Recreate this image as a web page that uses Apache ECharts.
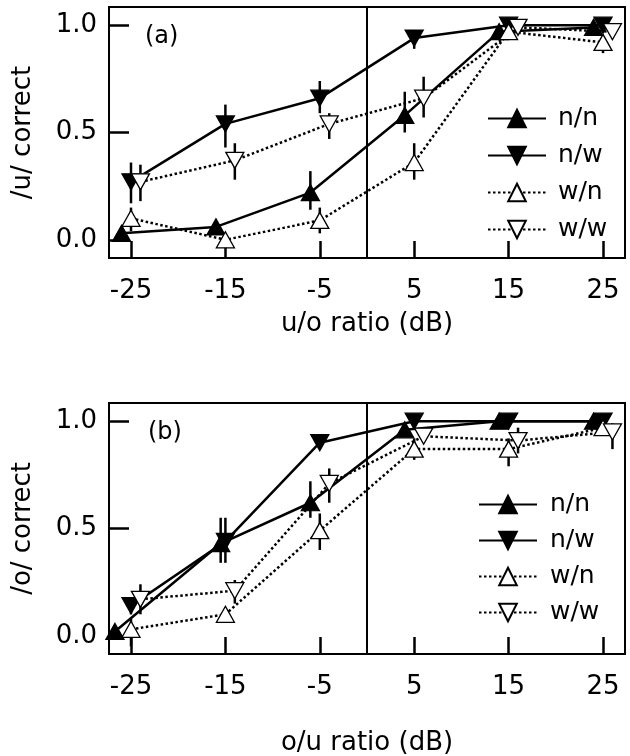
<!DOCTYPE html>
<html><head><meta charset="utf-8">
<script src="https://cdn.jsdelivr.net/npm/echarts@6/dist/echarts.min.js"></script>
<style>html,body{margin:0;padding:0;background:#fff}#c{width:630px;height:756px}</style>
</head><body><div id="c"></div>
<script>
// ---- data ----
const xTicks = [-25, -15, -5, 5, 15, 25];
const yTicks = [0, 0.5, 1.0];
const names = ['n/n', 'n/w', 'w/n', 'w/w'];
const panelLabels = ['(a)', '(b)'];
const yTitles = ['/u/ correct', '/o/ correct'];
const xTitles = ['u/o ratio (dB)', 'o/u ratio (dB)'];

// panel (a): [dB, proportion correct]
const a_nn = [[-26, 0.03], [-16, 0.06], [-6, 0.22], [4, 0.58], [14, 0.97], [24, 0.99]];
const a_nw = [[-25, 0.27], [-15, 0.54], [-5, 0.66], [5, 0.94], [15, 1.0], [25, 1.0]];
const a_wn = [[-25, 0.10], [-15, 0.0], [-5, 0.09], [5, 0.36], [15, 0.97], [25, 0.92]];
const a_ww = [[-24, 0.27], [-14, 0.37], [-4, 0.54], [6, 0.66], [16, 0.99], [26, 0.97]];
// error bars (a): [dB, low, high]
const a_err = [
  [-25, 0.17, 0.36], [-15, 0.43, 0.63], [-5, 0.59, 0.74], [5, 0.89, 0.96],
  [-24, 0.18, 0.35], [-14, 0.28, 0.45], [-4, 0.47, 0.59], [6, 0.57, 0.76],
  [-6, 0.14, 0.32], [4, 0.50, 0.69],
  [-25, 0.04, 0.15], [-5, 0.03, 0.15], [5, 0.28, 0.45], [25, 0.87, 0.94]
];

// panel (b)
const b_nn = [[-26.7, 0.02], [-15.5, 0.43], [-6, 0.62], [4, 0.96], [14, 1.0], [24, 1.0]];
const b_nw = [[-25, 0.14], [-15, 0.44], [-5, 0.90], [5, 1.0], [15, 1.0], [25, 1.0]];
const b_wn = [[-25, 0.03], [-15, 0.10], [-5, 0.49], [5, 0.87], [15, 0.87], [25, 0.97]];
const b_ww = [[-24, 0.17], [-14, 0.21], [-4, 0.71], [6, 0.93], [16, 0.91], [26, 0.95]];
const b_err = [
  [-15.5, 0.34, 0.55], [-6, 0.55, 0.72],
  [-15, 0.34, 0.55], [-25, 0.10, 0.17],
  [-24, 0.10, 0.24], [-14, 0.15, 0.26], [-4, 0.62, 0.78], [16, 0.85, 0.97], [26, 0.87, 0.99],
  [-25, -0.05, 0.08], [-5, 0.40, 0.57], [5, 0.82, 0.92], [15, 0.79, 0.92]
];

// ---- chart ----
const FONT = 'DejaVu Sans';
const chart = echarts.init(document.getElementById('c'), null, {renderer: 'canvas'});

const styles = {
  'n/n': {symbolRotate: 0, fill: '#000', dash: 'solid'},
  'n/w': {symbolRotate: 180, fill: '#000', dash: 'solid'},
  'w/n': {symbolRotate: 0, fill: '#fff', dash: [2.5, 2.5]},
  'w/w': {symbolRotate: 180, fill: '#fff', dash: [2.5, 2.5]}
};

function lineSeries(name, data, idx) {
  const s = styles[name];
  return {
    type: 'line', name: name, data: data,
    xAxisIndex: idx, yAxisIndex: idx,
    symbol: 'triangle', symbolSize: [18, 16], symbolRotate: s.symbolRotate,
    showAllSymbol: true, clip: false,
    lineStyle: {color: '#000', width: 2.5, type: s.dash},
    itemStyle: {color: s.fill, borderColor: '#000', borderWidth: 1.3},
    z: 3, animation: false
  };
}
function errSeries(data, idx) {
  return {
    type: 'custom', data: data, xAxisIndex: idx, yAxisIndex: idx, z: 1, animation: false,
    silent: true,
    renderItem: function (params, api) {
      const p1 = api.coord([api.value(0), api.value(1)]);
      const p2 = api.coord([api.value(0), api.value(2)]);
      return {type: 'line', shape: {x1: p1[0], y1: p1[1], x2: p2[0], y2: p2[1]},
        style: {stroke: '#000', lineWidth: 2.5}};
    }
  };
}
function vline(idx) {
  return {
    type: 'line', data: [], xAxisIndex: idx, yAxisIndex: idx, animation: false,
    markLine: {silent: true, symbol: 'none', label: {show: false},
      lineStyle: {color: '#000', width: 2, type: 'solid'}, data: [{xAxis: 0}]}
  };
}

const grids = [
  {left: 109, top: 7, width: 516, height: 251, show: true, borderColor: '#000', borderWidth: 2,
    containLabel: false, outerBoundsMode: 'none'},
  {left: 109, top: 403, width: 516, height: 251, show: true, borderColor: '#000', borderWidth: 2,
    containLabel: false, outerBoundsMode: 'none'}
];
const xNameGap = [53, 76];
const xAxes = [0, 1].map(i => ({
  type: 'value', gridIndex: i, min: -27.33, max: 27.33,
  name: xTitles[i], nameLocation: 'middle', nameGap: xNameGap[i],
  nameTextStyle: {fontFamily: FONT, fontSize: 26, color: '#000'},
  axisLine: {show: true, onZero: false, lineStyle: {color: '#000', width: 2}},
  axisTick: {show: true, inside: true, length: 17, lineStyle: {color: '#000', width: 2.5}, customValues: xTicks},
  axisLabel: {show: true, margin: 20, fontFamily: FONT, fontSize: 26, color: '#000', customValues: xTicks},
  splitLine: {show: false}
}));
const yAxes = [0, 1].map(i => ({
  type: 'value', gridIndex: i, min: -0.085, max: 1.085,
  name: yTitles[i], nameLocation: 'middle', nameGap: 73, nameRotate: 90,
  nameTextStyle: {fontFamily: FONT, fontSize: 26, color: '#000'},
  axisLine: {show: true, onZero: false, lineStyle: {color: '#000', width: 2}},
  axisTick: {show: true, inside: true, length: 20, lineStyle: {color: '#000', width: 2.5}, customValues: yTicks},
  axisLabel: {show: true, margin: 12, fontFamily: FONT, fontSize: 26, color: '#000', customValues: yTicks,
    formatter: v => v.toFixed(1)},
  splitLine: {show: false}
}));

const legendBase = {
  orient: 'vertical', itemWidth: 58, itemHeight: 22, data: names,
  selectedMode: false,
  textStyle: {fontFamily: FONT, fontSize: 25, color: '#000'}
};

const option = {
  backgroundColor: '#fff',
  animation: false,
  grid: grids,
  xAxis: xAxes,
  yAxis: yAxes,
  legend: [
    Object.assign({}, legendBase, {left: 482, top: 101, itemGap: 12,
      textStyle: Object.assign({}, legendBase.textStyle, {padding: [0, 0, 0, 7]})}),
    Object.assign({}, legendBase, {left: 473, top: 487, itemGap: 11,
      textStyle: Object.assign({}, legendBase.textStyle, {padding: [0, 0, 0, 8]})})
  ],
  graphic: [
    {type: 'text', left: 145, top: 25, style: {text: panelLabels[0], font: '24px "' + FONT + '"', fill: '#000'}},
    {type: 'text', left: 148, top: 421, style: {text: panelLabels[1], font: '24px "' + FONT + '"', fill: '#000'}}
  ],
  series: [
    vline(0), vline(1),
    errSeries(a_err, 0), errSeries(b_err, 1),
    lineSeries('n/n', a_nn, 0), lineSeries('n/w', a_nw, 0), lineSeries('w/n', a_wn, 0), lineSeries('w/w', a_ww, 0),
    lineSeries('n/n', b_nn, 1), lineSeries('n/w', b_nw, 1), lineSeries('w/n', b_wn, 1), lineSeries('w/w', b_ww, 1)
  ]
};
chart.setOption(option);
</script>
</body></html>
